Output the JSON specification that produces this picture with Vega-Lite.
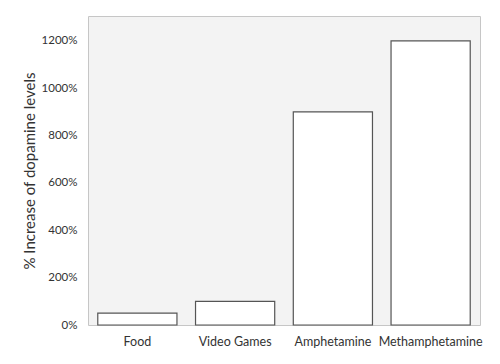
{
  "$schema": "https://vega.github.io/schema/vega-lite/v6.json",
  "width": 392,
  "height": 309,
  "autosize": {"type": "none"},
  "padding": {"left": 88, "top": 16, "right": 20, "bottom": 39},
  "background": "white",
  "config": {
    "font": "Lato",
    "view": {"fill": "#f3f3f3", "stroke": "#c6c6c6", "strokeWidth": 1}
  },
  "data": {
    "values": [
      {"item": "Food", "increase": 50},
      {"item": "Video Games", "increase": 100},
      {"item": "Amphetamine", "increase": 900},
      {"item": "Methamphetamine", "increase": 1200}
    ]
  },
  "mark": {"type": "bar", "fill": "white", "stroke": "#555555", "strokeWidth": 1.2},
  "encoding": {
    "x": {
      "field": "item",
      "type": "nominal",
      "sort": null,
      "scale": {"paddingInner": 0.19, "paddingOuter": 0.1},
      "axis": {
        "title": null,
        "labelAngle": 0,
        "ticks": false,
        "domain": false,
        "labelFontSize": 12.5,
        "labelColor": "#333333",
        "labelPadding": 10
      }
    },
    "y": {
      "field": "increase",
      "type": "quantitative",
      "scale": {"domain": [0, 1305], "nice": false},
      "axis": {
        "title": "% Increase of dopamine levels",
        "titleFontSize": 15,
        "titleFontWeight": "normal",
        "titleColor": "#333333",
        "titlePadding": 4,
        "values": [0, 200, 400, 600, 800, 1000, 1200],
        "labelExpr": "datum.value + '%'",
        "labelFontSize": 11.5,
        "labelColor": "#333333",
        "labelPadding": 11,
        "ticks": false,
        "domain": false,
        "grid": false
      }
    }
  }
}
